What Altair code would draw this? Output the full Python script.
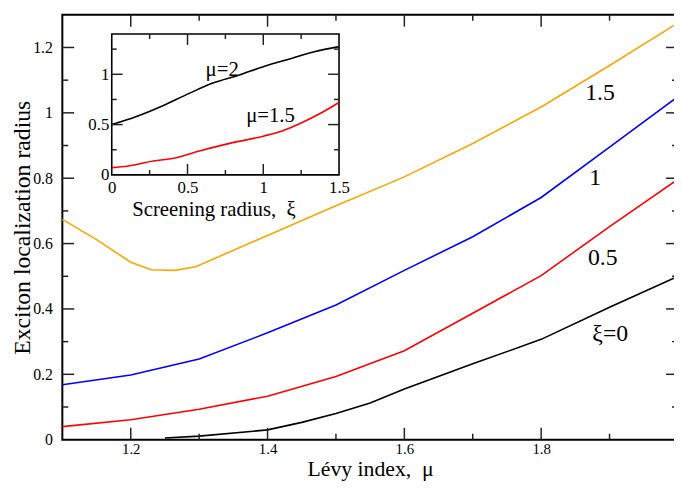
import altair as alt
import pandas as pd

# ---------------- main panel data (Lévy index mu vs localization radius) ----------------
mu_xi15 = [1.1, 1.15, 1.2, 1.23, 1.265, 1.295, 1.4, 1.5, 1.6, 1.7, 1.8, 1.9, 2.0]
r_xi15 = [0.674, 0.612, 0.543, 0.520, 0.518, 0.529, 0.625, 0.716, 0.804, 0.906, 1.018, 1.145, 1.275]
mu_xi1 = [1.1, 1.2, 1.3, 1.4, 1.5, 1.6, 1.7, 1.8, 1.9, 2.0]
r_xi1 = [0.168, 0.198, 0.247, 0.327, 0.412, 0.518, 0.621, 0.741, 0.895, 1.05]
mu_xi05 = [1.1, 1.2, 1.3, 1.4, 1.5, 1.6, 1.7, 1.8, 1.9, 2.0]
r_xi05 = [0.040, 0.061, 0.093, 0.133, 0.193, 0.272, 0.387, 0.502, 0.652, 0.797]
mu_xi0 = [1.25, 1.3, 1.4, 1.45, 1.5, 1.55, 1.6, 1.7, 1.8, 1.9, 2.0]
r_xi0 = [0.005, 0.011, 0.030, 0.053, 0.080, 0.112, 0.155, 0.232, 0.307, 0.405, 0.50]

series_main = ["xi=1.5", "xi=1", "xi=0.5", "xi=0"]
colors_main = ["#FFA500", "#0000FF", "#FF0000", "#000000"]

label_text_main = ["1.5", "1", "0.5", "ξ=0"]
label_mu = [1.886, 1.879, 1.890, 1.901]
label_r = [1.061, 0.800, 0.555, 0.322]

x_major = [1.2, 1.4, 1.6, 1.8, 2.0]
x_minor = [1.3, 1.5, 1.7, 1.9]
y_major = [0.2, 0.4, 0.6, 0.8, 1.0, 1.2]
y_minor = [0.1, 0.3, 0.5, 0.7, 0.9, 1.1]
y_labels = [0, 0.2, 0.4, 0.6, 0.8, 1.0, 1.2]

# ---------------- inset data (screening radius xi) ----------------
xi_mu2 = [0, 0.163, 0.326, 0.511, 0.663, 0.837, 1.0, 1.185, 1.337, 1.5]
r_mu2 = [0.50, 0.58, 0.68, 0.81, 0.91, 0.99, 1.076, 1.158, 1.224, 1.275]
xi_mu15 = [0, 0.109, 0.274, 0.426, 0.578, 0.75, 1.0, 1.12, 1.25, 1.381, 1.5]
r_mu15 = [0.072, 0.089, 0.138, 0.171, 0.237, 0.303, 0.385, 0.434, 0.516, 0.615, 0.72]

series_inset = ["mu=2", "mu=1.5"]
colors_inset = ["#000000", "#FF0000"]
label_text_inset = ["μ=2", "μ=1.5"]
label_xi = [0.729, 1.048]
label_ri = [1.046, 0.582]

ix_labels = [0, 0.5, 1.0, 1.5]
ix_major = [0.5, 1.0]
ix_minor = [0.25, 0.75, 1.25]
iy_labels = [0, 0.5, 1.0]
iy_major = [0.5, 1.0]
iy_minor = [0.25, 0.75, 1.25]

# ---------------- layout ----------------
PAD_L, PAD_T = 55, 4
W, H = 623, 430
PAD_R = 674 - PAD_L - W        # plot runs slightly past the right edge, as in the original
PAD_B = 478 - PAD_T - H
IX0, IX1 = 50, 280             # inset x pixel range inside plot
IY0, IY1 = 162, 19.5           # inset y pixel range (bottom, top)
FONT = "Liberation Serif"
MAJ, MIN = 12, 6
IMAJ, IMIN = 11, 5


def xs():
    return alt.Scale(domain=[1.1, 2.0], nice=False, zero=False)


def ys():
    return alt.Scale(domain=[0, 1.3], nice=False, zero=False)


def ixs():
    return alt.Scale(domain=[0, 1.5], range=[IX0, IX1], nice=False, zero=False)


def iys():
    return alt.Scale(domain=[0, 1.4], range=[IY0, IY1], nice=False, zero=False)


main_rows = []
for name, xs_, rs_ in zip(series_main, [mu_xi15, mu_xi1, mu_xi05, mu_xi0],
                          [r_xi15, r_xi1, r_xi05, r_xi0]):
    for a, b in zip(xs_, rs_):
        main_rows.append({"mu": a, "r": b, "s": name})
df_main = pd.DataFrame(main_rows)

inset_rows = []
for name, xs_, rs_ in zip(series_inset, [xi_mu2, xi_mu15], [r_mu2, r_mu15]):
    for a, b in zip(xs_, rs_):
        inset_rows.append({"xi": a, "r": b, "s": name})
df_inset = pd.DataFrame(inset_rows)

main_lines = alt.Chart(df_main).mark_line(strokeWidth=1.6).encode(
    x=alt.X("mu:Q", scale=xs(), axis=alt.Axis(
        orient="bottom", values=x_major, format="~g", title="Lévy index,\u00a0 μ", ticks=False,
        domain=False, grid=False, labelFont=FONT, labelFontSize=15, labelPadding=2,
        labelFlush=False, labelColor="black", titleFont=FONT, titleFontSize=22,
        titleFontWeight="normal", titleColor="black", titlePadding=2)),
    y=alt.Y("r:Q", scale=ys(), axis=alt.Axis(
        orient="left", values=y_labels, format="~g", title="Exciton localization radius",
        ticks=False, domain=False, grid=False, labelFont=FONT, labelFontSize=16,
        labelPadding=10, labelFlush=False, labelColor="black", titleFont=FONT,
        titleFontSize=24, titleFontWeight="normal", titleColor="black", titlePadding=-2)),
    color=alt.Color("s:N", scale=alt.Scale(domain=series_main, range=colors_main), legend=None),
    order=alt.Order("mu:Q"),
)


def xticks(values, scale, ybase, length, direction):
    df = pd.DataFrame({"v": values})
    return alt.Chart(df).mark_rule(color="#222222", strokeWidth=1.5).encode(
        x=alt.X("v:Q", scale=scale, axis=None),
        y=alt.value(ybase),
        y2=alt.value(ybase + direction * length),
    )


def yticks(values, scale, xbase, length, direction):
    df = pd.DataFrame({"v": values})
    return alt.Chart(df).mark_rule(color="#222222", strokeWidth=1.5).encode(
        y=alt.Y("v:Q", scale=scale, axis=None),
        x=alt.value(xbase),
        x2=alt.value(xbase + direction * length),
    )


main_ticks = [
    xticks(x_major, xs(), H, MAJ, -1), xticks(x_minor, xs(), H, MIN, -1),
    xticks(x_major, xs(), 0, MAJ, 1), xticks(x_minor, xs(), 0, MIN, 1),
    yticks(y_major, ys(), 0, MAJ, 1), yticks(y_minor, ys(), 0, MIN, 1),
    yticks(y_major, ys(), W, MAJ, -1), yticks(y_minor, ys(), W, MIN, -1),
]

main_text = alt.Chart(pd.DataFrame({"mu": label_mu, "r": label_r, "t": label_text_main})).mark_text(
    font=FONT, fontSize=24, color="black", align="center", baseline="middle"
).encode(
    x=alt.X("mu:Q", scale=xs(), axis=None),
    y=alt.Y("r:Q", scale=ys(), axis=None),
    text="t:N",
)

# ---------------- inset ----------------
frame = alt.Chart(pd.DataFrame({"x0": [0.0], "x1": [1.5], "y0": [0.0], "y1": [1.4]})).mark_rect(
    fill="white", stroke="black", strokeWidth=1.6
).encode(
    x=alt.X("x0:Q", scale=ixs(), axis=alt.Axis(
        orient="bottom", offset=-(H - IY0), values=ix_labels, format="~g",
        title="Screening radius,\u00a0 ξ", ticks=False, domain=False, grid=False,
        labelFont=FONT, labelFontSize=17, labelPadding=5, labelFlush=False,
        labelColor="black", titleFont=FONT, titleFontSize=21, titleFontWeight="normal",
        titleColor="black", titlePadding=3, titleX=IX0 + 103, titleAlign="center")),
    x2="x1:Q",
    y=alt.Y("y0:Q", scale=iys(), axis=alt.Axis(
        orient="left", offset=-IX0, values=iy_labels, format="~g", title=None,
        ticks=False, domain=False, grid=False, labelFont=FONT, labelFontSize=17,
        labelPadding=3, labelFlush=False, labelColor="black")),
    y2="y1:Q",
)

inset_lines = alt.Chart(df_inset).mark_line(strokeWidth=1.6, interpolate="monotone").encode(
    x=alt.X("xi:Q", scale=ixs(), axis=None),
    y=alt.Y("r:Q", scale=iys(), axis=None),
    color=alt.Color("s:N", scale=alt.Scale(domain=series_inset, range=colors_inset), legend=None),
    order=alt.Order("xi:Q"),
)

inset_ticks = [
    xticks(ix_major, ixs(), IY0, IMAJ, -1), xticks(ix_minor, ixs(), IY0, IMIN, -1),
    xticks(ix_major, ixs(), IY1, IMAJ, 1), xticks(ix_minor, ixs(), IY1, IMIN, 1),
    yticks(iy_major, iys(), IX0, IMAJ, 1), yticks(iy_minor, iys(), IX0, IMIN, 1),
    yticks(iy_major, iys(), IX1, IMAJ, -1), yticks(iy_minor, iys(), IX1, IMIN, -1),
]

inset_text = alt.Chart(pd.DataFrame({"xi": label_xi, "r": label_ri, "t": label_text_inset})).mark_text(
    font=FONT, fontSize=21, color="black", align="center", baseline="middle"
).encode(
    x=alt.X("xi:Q", scale=ixs(), axis=None),
    y=alt.Y("r:Q", scale=iys(), axis=None),
    text="t:N",
)

chart = alt.layer(
    main_lines, *main_ticks, main_text, frame, inset_lines, *inset_ticks, inset_text
).resolve_scale(
    x="independent", y="independent", color="independent"
).properties(
    width=W, height=H,
    autosize=alt.AutoSizeParams(type="none"),
    padding={"left": PAD_L, "top": PAD_T, "right": PAD_R, "bottom": PAD_B},
).configure(background="white").configure_view(stroke="black", strokeWidth=2)

chart.save("out.html", embed_options={"renderer": "svg", "actions": False})
